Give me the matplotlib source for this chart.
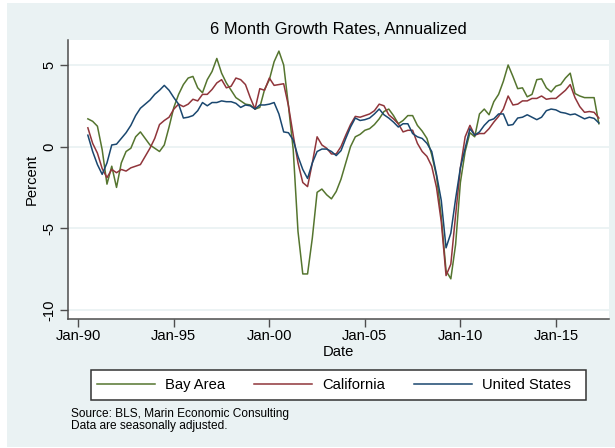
import matplotlib
matplotlib.use("Agg")
import matplotlib.pyplot as plt
from matplotlib.patches import Rectangle
from matplotlib.lines import Line2D
import numpy as np

plt.rcParams['font.family'] = ['Liberation Sans', 'DejaVu Sans']

# ---- data (quarterly readings, decimal years) ----
dates = np.arange(1990.5, 2017.26, 0.25)

bay_area = [
    1.7, 1.55,
    1.25, -0.2, -2.3, -1.2,
    -2.5, -1.0, -0.3, -0.1,
    0.6, 0.9, 0.5, 0.1,
    -0.1, -0.3, 0.1, 1.2,
    2.4, 3.2, 3.8, 4.2,
    4.3, 3.6, 3.3, 4.1,
    4.6, 5.4, 4.5, 3.9,
    3.45, 3.0, 2.8, 2.6,
    2.55, 2.3, 2.4, 3.5,
    4.1, 5.2, 5.85, 5.0,
    2.5, -0.2, -5.2, -7.8,
    -7.8, -5.6, -2.8, -2.6,
    -2.95, -3.2, -2.75, -2.0,
    -1.0, 0.0, 0.6, 0.75,
    1.0, 1.1, 1.35, 1.7,
    2.15, 2.3, 1.9, 1.4,
    1.6, 1.9, 1.9, 1.3,
    0.95, 0.5, -0.5, -1.8,
    -4.3, -7.6, -8.1, -6.0,
    -2.2, -0.3, 0.85, 0.6,
    2.0, 2.3, 1.95, 2.75,
    3.2, 4.0, 5.0, 4.3,
    3.55, 3.6, 3.05, 3.2,
    4.1, 4.15, 3.6, 3.35,
    3.7, 3.8, 4.2, 4.5,
    3.25, 3.1, 3.0, 3.0,
    3.0, 1.4,
]

california = [
    1.15, 0.2,
    -0.4, -1.35, -1.9, -1.4,
    -1.6, -1.4, -1.5, -1.3,
    -1.2, -1.1, -0.6, -0.1,
    0.5, 1.35, 1.6, 1.8,
    2.3, 2.6, 2.45, 2.6,
    2.9, 2.8, 3.2, 3.2,
    3.5, 3.9, 4.1, 3.6,
    3.7, 4.2, 4.1, 3.8,
    3.0, 2.3, 3.55, 3.45,
    4.2, 3.75, 3.8, 3.85,
    2.5, 0.7, -1.0, -2.2,
    -2.45, -1.0, 0.6, 0.1,
    -0.1, -0.45, -0.45, 0.0,
    0.7, 1.35, 1.85, 1.8,
    1.9, 2.0, 2.2, 2.6,
    2.5, 1.95, 1.7, 1.4,
    0.9, 1.0, 1.0, 0.2,
    -0.3, -0.6, -1.2, -2.5,
    -4.6, -7.9, -7.2, -4.2,
    -1.3, 0.6, 1.3, 0.7,
    0.8, 0.8, 1.1, 1.5,
    1.85, 2.3, 3.1, 2.55,
    2.6, 2.8, 2.8, 2.95,
    2.95, 3.1, 2.9, 2.95,
    2.95, 3.2, 3.45, 3.8,
    3.0, 2.45, 2.1, 2.15,
    2.1, 1.75,
]

united_states = [
    0.7, -0.3,
    -1.1, -1.7, -1.0, 0.1,
    0.15, 0.5, 0.85, 1.3,
    1.9, 2.35, 2.6, 2.85,
    3.2, 3.45, 3.75, 3.45,
    3.0, 2.6, 1.75, 1.8,
    1.9, 2.2, 2.7, 2.5,
    2.7, 2.7, 2.8, 2.75,
    2.75, 2.65, 2.4, 2.55,
    2.5, 2.3, 2.55, 2.55,
    2.6, 2.7, 2.0, 0.9,
    0.85, 0.4, -0.6, -1.4,
    -1.95, -1.0, -0.3, -0.15,
    -0.15, -0.3, -0.55, -0.25,
    0.5, 1.2, 1.75, 1.6,
    1.65, 1.75, 2.0, 2.3,
    1.95, 1.75, 1.5, 1.2,
    1.4, 1.4, 0.8, 0.6,
    0.5, 0.2, -0.3, -1.7,
    -3.3, -6.2, -5.3, -3.2,
    -1.3, -0.1, 1.1, 0.7,
    0.9, 1.3, 1.6, 1.7,
    2.0, 2.0, 1.3, 1.35,
    1.75, 1.8, 1.95, 1.8,
    1.65, 1.8, 2.2, 2.3,
    2.25, 2.1, 2.05, 1.95,
    2.0, 1.85, 1.7, 1.8,
    1.73, 1.45,
]

series_names = ["Bay Area", "California", "United States"]
series_colors = ["#55752f", "#90353b", "#1a476f"]

xtick_pos = [1990, 1995, 2000, 2005, 2010, 2015]
xtick_labels = ["Jan-90", "Jan-95", "Jan-00", "Jan-05", "Jan-10", "Jan-15"]
ytick_pos = [5, 0, -5, -10]
ytick_labels = ["5", "0", "-5", "-10"]

# ---- figure ----
W, H = 615, 448
fig = plt.figure(figsize=(W / 100, H / 100), dpi=100)
fig.patch.set_facecolor("white")
bgcol = "#eaf2f3"
fig.patches.append(Rectangle((7 / W, 1 - 447 / H), (W - 7) / W, (447 - 3) / H,
                             transform=fig.transFigure, facecolor=bgcol,
                             edgecolor="none", zorder=-10))

L, R, T, B = 68, 609, 40, 319
ax = fig.add_axes([L / W, 1 - B / H, (R - L) / W, (B - T) / H])
ax.set_facecolor("white")

for vals, name, col in zip([bay_area, california, united_states], series_names, series_colors):
    ax.plot(dates, vals, color=col, lw=1.1, label=name, solid_joinstyle="round")

ax.set_xlim(1989.46, 2017.78)
ax.set_ylim(-10.56, 6.53)

ax.set_yticks(ytick_pos)
ax.set_yticklabels(ytick_labels, rotation=90, va="center")
ax.set_xticks(xtick_pos)
ax.set_xticklabels(xtick_labels)
ax.grid(axis="y", color=bgcol, lw=1.3)
ax.set_axisbelow(True)

axcol = "#4d4d4d"
for s in ["top", "right"]:
    ax.spines[s].set_visible(False)
for s in ["left", "bottom"]:
    ax.spines[s].set_color(axcol)
    ax.spines[s].set_linewidth(1.1)
ax.tick_params(axis="both", direction="out", length=5.5, width=1.0, color=axcol,
               labelsize=10.6, labelcolor="black")
ax.tick_params(axis="x", pad=2)
ax.tick_params(axis="y", pad=3)

ax.set_xlabel("Date", fontsize=10.6)
ax.xaxis.set_label_coords((338 - L) / (R - L), -(352 - B) / (B - T))
ax.xaxis.label.set_va("center")
ax.set_ylabel("Percent", fontsize=10.6)
ax.yaxis.set_label_coords(-(L - 32) / (R - L), 0.5)
ax.yaxis.label.set_va("center")

fig.text(338 / W, 1 - 29 / H, "6 Month Growth Rates, Annualized",
         ha="center", va="center", fontsize=11.9)

# legend frame drawn as a box, entries placed inside it
fig.patches.append(Rectangle((91 / W, 1 - 400 / H), (586 - 91) / W, 30 / H,
                             transform=fig.transFigure, facecolor="white",
                             edgecolor="#333333", lw=1.1, zorder=1))
handles = [Line2D([], [], color=c, lw=1.1) for c in series_colors]
leg = fig.legend(handles, series_names, loc="center left",
                 bbox_to_anchor=(97 / W, 1 - 385 / H),
                 ncol=3, frameon=False,
                 handlelength=3.95, handletextpad=0.65, columnspacing=2.0,
                 borderpad=0, borderaxespad=0, fontsize=10.6)
leg.set_zorder(2)

fig.text(71 / W, 1 - 414 / H, "Source: BLS, Marin Economic Consulting",
         ha="left", va="center", fontsize=8.6)
fig.text(71 / W, 1 - 426 / H, "Data are seasonally adjusted.",
         ha="left", va="center", fontsize=8.6)

fig.savefig("out.png", dpi=100, facecolor=fig.get_facecolor())
